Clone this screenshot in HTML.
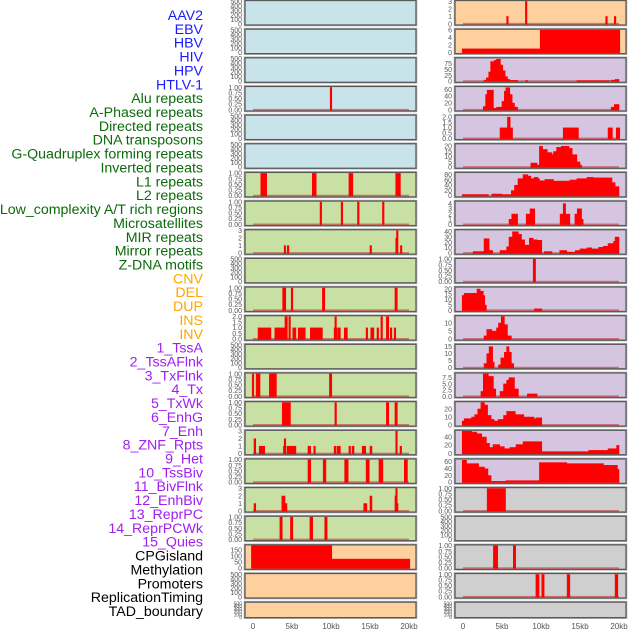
<!DOCTYPE html>
<html><head><meta charset="utf-8"><style>
html,body{margin:0;padding:0;background:#fff;width:630px;height:630px;overflow:hidden}
svg{display:block;font-family:"Liberation Sans",sans-serif}
</style></head><body>
<svg id="chart" width="630" height="630" viewBox="0 0 630 630"></svg>
<script>
// ---- data: segments [startKb, endKb, value] ----
const trackLabels=["AAV2","EBV","HBV","HIV","HPV","HTLV-1","Alu repeats","A-Phased repeats","Directed repeats","DNA transposons","G-Quadruplex forming repeats","Inverted repeats","L1 repeats","L2 repeats","Low_complexity A/T rich regions","Microsatellites","MIR repeats","Mirror repeats","Z-DNA motifs","CNV","DEL","DUP","INS","INV","1_TssA","2_TssAFlnk","3_TxFlnk","4_Tx","5_TxWk","6_EnhG","7_Enh","8_ZNF_Rpts","9_Het","10_TssBiv","11_BivFlnk","12_EnhBiv","13_ReprPC","14_ReprPCWk","15_Quies","CPGisland","Methylation","Promoters","ReplicationTiming","TAD_boundary"];
const labelGroups=[6,13,5,15,5];
const xTickLabels=["0","5kb","10kb","15kb","20kb"];
const xTickValues=[0,5,10,15,20];

const L3=[[9.9,10.1,1]];
const L6=[[1.0,1.75,1],[7.6,8.1,1],[12.3,12.8,1],[18.3,18.9,1]];
const L7=[[8.6,8.8,1],[11.3,11.5,1],[13.4,13.6,1],[16.6,16.8,1]];
const L8=[[4.0,4.2,1],[4.4,4.6,1],[15.0,15.2,1],[18.3,18.4,2],[18.4,18.5,3],[18.9,19.05,1]];
const L10=[[3.8,4.2,1],[4.9,5.1,1],[8.9,9.2,1],[18.2,18.5,1]];
const L11=[[0.65,1.45,1],[1.5,2.3,1],[2.8,4.1,1],[4.1,4.4,2],[4.6,4.8,2],[5.1,5.5,1],[5.8,6.7,1],[7.35,8.9,1],[10.4,10.5,1],[10.5,10.6,2],[10.6,10.7,1],[10.9,11.2,1],[11.7,12.1,1],[14.5,14.7,1],[15.1,15.5,1],[15.9,16.1,1],[16.4,16.6,2],[17.1,17.4,2],[17.6,17.8,1],[18.1,18.3,1]];
const L13=[[-0.1,0.1,1],[0.4,0.9,1],[2.1,3.0,1],[9.8,10.1,1]];
const L14=[[3.75,4.8,1],[10.5,10.7,1],[17.1,17.4,1],[18.2,18.5,1]];
const L15=[[0.13,0.35,2],[0.8,1.5,1],[3.9,4.0,1],[4.0,4.2,2],[4.35,5.5,1],[7.05,7.4,1],[7.8,8.0,1],[10.4,10.6,1],[10.75,11.2,1],[12.3,12.5,1],[12.7,12.95,1],[14.0,14.45,1],[15.0,15.25,1],[18.3,18.5,3],[18.85,19.05,1]];
const L16=[[7.05,7.4,1],[9.0,9.35,1],[11.75,12.2,1],[14.5,14.9,1],[16.15,16.65,1],[19.4,19.8,1]];
const L17=[[0.13,0.35,1],[3.7,4.1,2],[4.1,4.35,1],[14.2,14.6,1],[15.0,15.25,2],[18.2,18.3,2],[18.3,18.4,3],[18.4,18.5,1]];
const L18=[[3.45,3.75,1],[4.8,5.1,1],[7.3,7.65,1],[9.2,9.5,1]];
const L19=[[-0.2,10.1,185],[10.1,20.1,76]];

const R0=[[5.6,5.8,1],[8.0,8.2,3],[18.3,18.5,1],[19.4,19.6,1]];
const R1=[[-0.1,9.9,1],[9.9,20.1,6]];
const R2=[[2.7,3.0,5],[3.0,3.3,15],[3.3,3.55,40],[3.55,4.0,85],[4.0,4.3,90],[4.3,4.8,95],[4.8,5.1,70],[5.1,5.4,45],[5.4,5.7,20],[5.7,6.0,8],[6.0,7.0,4],[8.0,8.3,3],[14.6,18.8,3],[19.0,19.5,5],[19.5,20,8]];
const R3=[[2.6,2.9,10],[2.9,3.1,45],[3.1,3.9,58],[3.9,4.3,5],[4.3,5.0,8],[5.0,5.3,25],[5.3,5.5,55],[5.5,6.0,65],[6.0,6.3,45],[6.3,6.6,20],[6.6,7.0,8],[19.0,19.4,8],[19.4,20,16]];
const R4=[[4.75,5.7,1],[5.7,6.05,2],[6.05,6.35,1],[12.85,14.8,1],[18.6,19.15,1],[19.65,20.1,1]];
const R5=[[8.7,9.5,4],[9.5,9.8,2],[9.8,10.2,20],[10.2,10.8,17],[10.8,11.4,14],[11.4,11.6,12],[11.6,12.0,15],[12.0,12.6,19],[12.6,13.6,20],[13.6,14.0,18],[14.0,14.6,12],[14.6,15.0,5],[15.0,15.2,2]];
const R6=[[-0.1,3.25,5],[3.7,4.95,7],[4.95,6.2,5],[6.2,6.6,20],[6.6,7.05,40],[7.05,7.7,65],[7.7,8.3,80],[8.3,8.7,75],[8.7,9.1,65],[9.1,9.6,70],[9.6,9.8,65],[9.8,10.5,57],[10.5,11.6,62],[11.6,13.7,56],[13.7,14.6,60],[14.6,15.9,65],[15.9,16.7,70],[16.7,19.1,68],[19.1,19.5,50],[19.5,20,35]];
const R7=[[5.9,6.25,1],[6.25,7.0,2],[8.1,8.6,2],[8.6,9.2,3],[12.45,12.85,2],[12.85,13.15,4],[13.15,13.7,2],[14.35,14.65,2],[14.65,15.2,3],[15.2,15.4,1]];
const R8=[[1.3,2.7,3],[2.7,3.35,27],[3.35,3.8,5],[4.75,5.6,5],[5.6,5.9,12],[5.9,6.35,30],[6.35,7.1,40],[7.1,7.5,35],[7.5,7.9,25],[7.9,8.5,15],[8.5,9.0,28],[9.0,9.5,25],[9.5,10.1,24],[10.4,11.4,3],[12.4,13.3,5],[13.3,14.4,2],[14.4,15.0,5],[15.0,15.9,8],[15.9,16.5,10],[16.5,17.4,8],[17.4,18.0,11],[18.0,18.6,13],[18.6,19.3,18],[19.3,19.5,22],[19.5,20,30]];
const R9=[[9.0,9.3,1]];
const R10=[[-0.1,0.15,14],[0.15,1.8,16],[1.8,2.2,20],[2.2,2.6,18],[2.6,2.75,14],[2.75,3.0,5],[9.15,10.1,1.5]];
const R11=[[2.7,3.05,2],[3.05,3.7,6],[3.7,4.3,5],[4.3,4.55,7],[4.55,4.9,10],[4.9,5.3,14],[5.3,5.7,9],[5.7,6.2,2]];
const R12=[[2.7,3.05,3],[3.05,3.35,10],[3.35,3.8,15],[3.8,4.0,4],[4.55,4.85,2],[4.85,5.3,7],[5.3,5.6,11],[5.6,5.9,15],[5.9,6.2,11],[6.2,6.5,3]];
const R13=[[2.3,2.6,2],[2.6,3.25,9],[3.25,3.9,8],[3.9,4.2,3],[4.75,5.2,2],[5.2,5.6,5],[5.6,5.9,6.5],[5.9,6.6,7.5],[6.6,7.1,3],[8.25,9.5,1]];
const R14=[[-0.1,0.15,5],[0.15,1.1,8],[1.1,1.5,10],[1.5,1.9,13],[1.9,2.3,20],[2.3,2.75,28],[2.75,3.15,25],[3.15,3.6,12],[3.6,4.0,7],[4.0,4.5,5],[4.5,5.2,7],[5.2,5.6,12],[5.6,6.7,17],[6.7,7.8,13],[7.8,9.1,10],[9.1,9.4,8],[9.4,10.1,9]];
const R15=[[-0.1,1.1,54],[1.1,1.75,52],[1.75,2.4,48],[2.4,3.0,40],[3.0,3.4,25],[3.4,3.85,15],[3.85,4.7,22],[4.7,5.3,17],[5.3,6.0,12],[6.0,6.8,15],[6.8,7.7,22],[7.7,10.1,29],[10.1,16.1,5],[16.1,18.6,8],[18.6,19.7,12],[19.7,20,20]];
const R16=[[-0.1,0.45,65],[0.45,2.0,55],[2.0,2.75,45],[2.75,3.2,40],[3.2,3.6,20],[3.6,5.5,3],[5.5,9.8,5],[9.8,13.3,58],[13.3,18.0,55],[18.0,19.8,50],[19.8,20,38]];
const R17=[[3.1,5.45,1]];
const R19=[[3.9,4.45,1],[6.45,6.75,1]];
const R20=[[9.35,9.75,1],[10.1,10.4,1],[13.35,13.7,1],[19.5,19.85,1]];

const T500=["0","100","200","300","400","500"], T1=["0.00","0.25","0.50","0.75","1.00"];
const T3=["0","1","2","3"], T2=["0.0","0.5","1.0","1.5","2.0"];
// ---- layout ----
const NS="http://www.w3.org/2000/svg";
const svg=document.getElementById("chart");
function mk(t,a,p){const e=document.createElementNS(NS,t);for(const k in a)e.setAttribute(k,a[k]);(p||svg).appendChild(e);return e;}
const BG={blue:"#c9e3ea",green:"#c8e0a3",orange:"#fdd09e",purple:"#d6c5e1",grey:"#cfcfcf"};
const leftPanels=[
 ["blue",500,T500,null],["blue",500,T500,null],["blue",500,T500,null],["blue",1,T1,L3],["blue",500,T500,null],["blue",500,T500,null],
 ["green",1,T1,L6],["green",1,T1,L7],["green",3,T3,L8],["green",500,T500,null],["green",1,T1,L10],["green",2,T2,L11],["green",500,T500,null],
 ["green",1,T1,L13],["green",1,T1,L14],["green",3,T3,L15],["green",1,T1,L16],["green",3,T3,L17],["green",1,T1,L18],
 ["orange",185,["0","50","100","150"],L19],["orange",500,T500,null],["orange",500,T500,null]];
const rightPanels=[
 ["orange",3,T3,R0],["orange",6,["0","2","4","6"],R1],["purple",97,["0","25","50","75"],R2],["purple",66,["0","20","40","60"],R3],
 ["purple",2.1,T2,R4],["purple",21.5,["0","5","10","15","20"],R5],["purple",85,["0","20","40","60","80"],R6],["purple",4.3,["0","1","2","3","4"],R7],
 ["purple",42,["0","10","20","30","40"],R8],["purple",1,T1,R9],["purple",21,["0","5","10","15","20"],R10],["purple",14,["0","5","10"],R11],
 ["purple",16,["0","5","10","15"],R12],["purple",9,["0.0","2.5","5.0","7.5"],R13],["purple",28,["0","10","20"],R14],["purple",54,["0","20","40"],R15],
 ["purple",66,["0","20","40","60"],R16],["grey",1,T1,R17],["grey",500,T500,null],["grey",1,T1,R19],["grey",1,T1,R20],["grey",500,T500,null]];

function drawPanel(p,col,i){
 const x0=col?455:245, w=171, top=i*28.65+0.5, h=(i===21?15.5:24.5);
 const kx=v=>(col?463:253)+v*7.8;
 const y0=top+h-1, y1=top+1, ky=v=>y0-(v/p[1])*(y0-y1);
 const g=mk("g",{});
 
 
 mk("rect",{x:x0-0.8,y:top-0.8,width:w+1.6,height:h+1.6,fill:"none",stroke:"#b5b5b5","stroke-width":1},g);
 mk("rect",{x:x0,y:top,width:w,height:h,fill:BG[p[0]],stroke:"#5a5a5a","stroke-width":1.3},g);
 const ticks=p[2];
 ticks.forEach((t,j)=>{
  const v=p[1]===500?j*100:(p[1]===185?j*50:parseFloat(t));
  const tt=mk("text",{x:x0-3,y:ky(v)+2.3,"text-anchor":"end","font-size":i===21?5:7,fill:"#555"},g);
  tt.textContent=t;
  
  
 });
 if(p[3]){
  mk("line",{x1:kx(0),x2:kx(20),y1:y0-0.3,y2:y0-0.3,stroke:"rgba(190,40,40,0.55)","stroke-width":1.6},g);
  p[3].forEach(s=>{
   const r=mk("rect",{x:kx(s[0]),y:ky(s[2]),width:Math.max(1.5,kx(s[1])-kx(s[0])),height:y0-ky(s[2]),fill:"#ff0000",stroke:"#ff0000","stroke-width":0.6},g);
   
   
  });
 }
}
leftPanels.forEach((p,i)=>drawPanel(p,0,i));
rightPanels.forEach((p,i)=>drawPanel(p,1,i));
[0,1].forEach(col=>{
 xTickValues.forEach((v,j)=>{
  const t=mk("text",{x:(col?463:253)+v*7.8,y:629,"text-anchor":"middle","font-size":8,fill:"#555"});
  t.textContent=xTickLabels[j];
  
  
 });
});
const gcols=["#1a1aff","#0b6b0b","#ffa500","#a020f0","#000000"];
let idx=0;
labelGroups.forEach((n,gi)=>{for(let k=0;k<n;k++){
 const t=mk("text",{x:203,y:20+idx*13.86,"text-anchor":"end","font-size":14.2,fill:gcols[gi]});
 t.textContent=trackLabels[idx];
 
 
 idx++;}});
</script>
</body></html>
